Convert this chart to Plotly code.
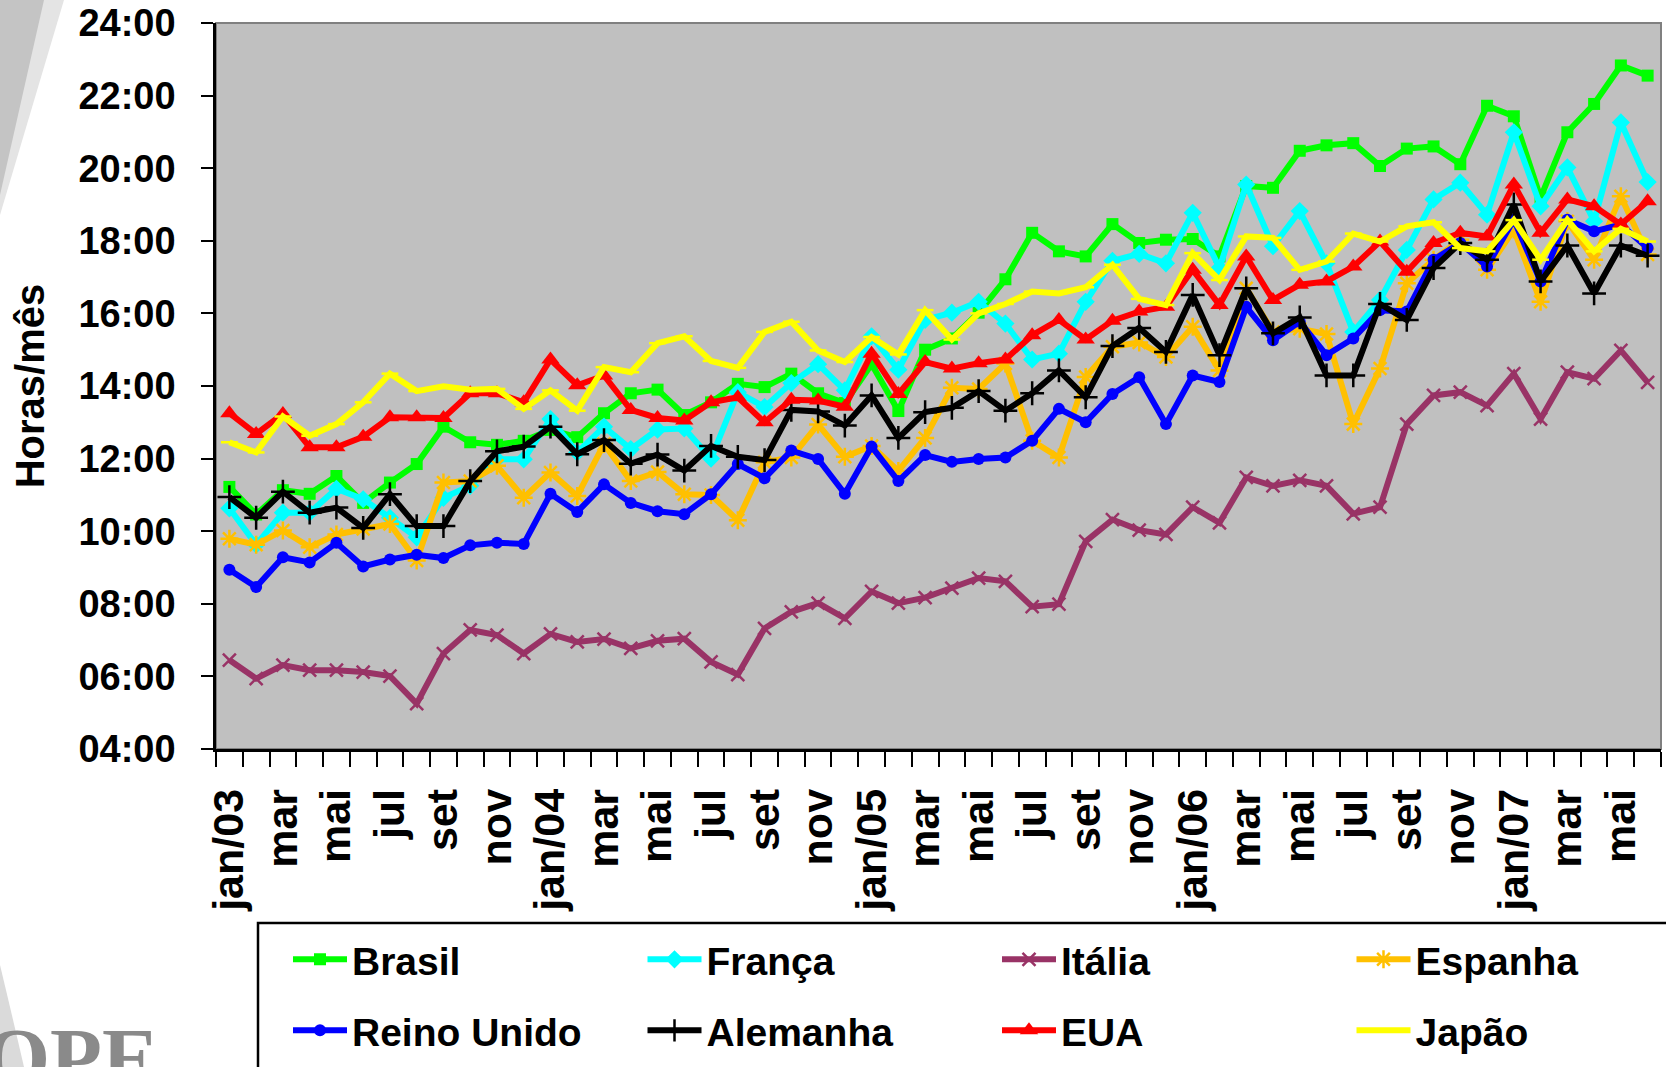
import plotly.graph_objects as go

# ---- data -------------------------------------------------------------
month_names = ["jan", "fev", "mar", "abr", "mai", "jun",
               "jul", "ago", "set", "out", "nov", "dez"]
years = ["03", "04", "05", "06", "07"]
months = [f"{m}/{y}" for y in years for m in month_names][:54]   # jan/03 .. jun/07

x_tick_labels = ["jan/03", "", "mar", "", "mai", "", "jul", "", "set", "", "nov", "",
                 "jan/04", "", "mar", "", "mai", "", "jul", "", "set", "", "nov", "",
                 "jan/05", "", "mar", "", "mai", "", "jul", "", "set", "", "nov", "",
                 "jan/06", "", "mar", "", "mai", "", "jul", "", "set", "", "nov", "",
                 "jan/07", "", "mar", "", "mai", ""]

y_ticks = [4, 6, 8, 10, 12, 14, 16, 18, 20, 22, 24]
y_tick_labels = ["04:00", "06:00", "08:00", "10:00", "12:00", "14:00",
                 "16:00", "18:00", "20:00", "22:00", "24:00"]

# hours per month (decimal hours)
brasil = [11.22, 10.46, 11.13, 11.03, 11.52, 10.78, 11.34, 11.85, 12.88, 12.45, 12.38, 12.49,
          12.79, 12.59, 13.25, 13.80, 13.90, 13.20, 13.55, 14.06, 13.97, 14.34, 13.80, 13.53,
          14.60, 13.31, 15.00, 15.31, 16.02, 16.94, 18.22, 17.71, 17.57, 18.46, 17.94, 18.03,
          18.05, 17.57, 19.51, 19.46, 20.48, 20.63, 20.69, 20.06, 20.54, 20.60, 20.11, 21.72,
          21.43, 19.19, 20.99, 21.77, 22.83, 22.55]
franca = [10.63, 9.63, 10.51, 10.51, 11.17, 10.88, 10.37, 9.83, 10.92, 11.25, 11.98, 11.98,
          13.09, 12.17, 12.88, 12.26, 12.80, 12.83, 12.00, 13.83, 13.42, 14.08, 14.60, 13.88,
          15.37, 14.45, 15.82, 16.02, 16.32, 15.72, 14.73, 14.89, 16.32, 17.45, 17.64, 17.38,
          18.77, 17.25, 19.55, 17.85, 18.82, 17.38, 15.49, 16.37, 17.75, 19.14, 19.60, 18.72,
          20.99, 18.95, 20.02, 18.54, 21.26, 19.62]
italia = [6.45, 5.94, 6.31, 6.17, 6.17, 6.12, 6.01, 5.25, 6.63, 7.28, 7.14, 6.63,
          7.17, 6.95, 7.03, 6.77, 6.98, 7.04, 6.40, 6.05, 7.32, 7.78, 8.02, 7.60,
          8.34, 8.02, 8.17, 8.43, 8.71, 8.62, 7.92, 7.99, 9.72, 10.32, 10.03, 9.91,
          10.66, 10.23, 11.48, 11.25, 11.40, 11.25, 10.48, 10.66, 12.95, 13.74, 13.83, 13.46,
          14.34, 13.09, 14.38, 14.20, 14.98, 14.10]
espanha = [9.79, 9.63, 10.02, 9.56, 9.91, 10.06, 10.20, 9.19, 11.34, 11.38, 11.80, 10.92,
           11.62, 10.97, 12.40, 11.38, 11.63, 11.02, 11.00, 10.30, 11.90, 12.03, 12.94, 12.05,
           12.35, 11.66, 12.57, 13.95, 13.92, 14.62, 12.49, 12.03, 14.25, 15.08, 15.20, 14.80,
           15.63, 14.43, 16.69, 15.49, 15.58, 15.43, 12.95, 14.48, 16.83, 17.48, 18.03, 17.20,
           18.31, 16.32, 18.54, 17.48, 19.23, 17.62]
reino_unido = [8.94, 8.46, 9.28, 9.14, 9.68, 9.03, 9.22, 9.35, 9.26, 9.61, 9.68, 9.65,
               11.03, 10.53, 11.29, 10.78, 10.55, 10.47, 11.02, 11.85, 11.46, 12.22, 11.99, 11.03,
               12.33, 11.38, 12.10, 11.91, 11.99, 12.03, 12.49, 13.37, 13.00, 13.78, 14.24, 12.95,
               14.29, 14.11, 16.18, 15.26, 15.77, 14.85, 15.31, 16.09, 16.05, 17.48, 17.94, 17.29,
               18.58, 16.88, 18.58, 18.26, 18.45, 17.80]
alemanha = [10.94, 10.37, 11.09, 10.51, 10.65, 10.09, 11.02, 10.14, 10.14, 11.38, 12.20, 12.33,
            12.88, 12.12, 12.51, 11.86, 12.11, 11.67, 12.35, 12.05, 11.96, 13.34, 13.30, 12.91,
            13.74, 12.57, 13.28, 13.40, 13.86, 13.32, 13.80, 14.43, 13.69, 15.10, 15.60, 14.94,
            16.51, 14.85, 16.69, 15.45, 15.89, 14.29, 14.29, 16.26, 15.82, 17.25, 17.94, 17.48,
            19.00, 16.88, 17.87, 16.55, 17.87, 17.59]
eua = [13.25, 12.68, 13.23, 12.31, 12.31, 12.60, 13.14, 13.14, 13.12, 13.80, 13.80, 13.55,
       14.73, 14.02, 14.29, 13.34, 13.12, 13.05, 13.55, 13.69, 13.00, 13.62, 13.60, 13.43,
       14.89, 13.78, 14.66, 14.48, 14.63, 14.73, 15.40, 15.82, 15.28, 15.80, 16.05, 16.18,
       17.20, 16.23, 17.57, 16.37, 16.79, 16.88, 17.29, 17.98, 17.15, 17.94, 18.22, 18.12,
       19.55, 18.22, 19.14, 18.95, 18.45, 19.09]
japao = [12.45, 12.17, 13.16, 12.63, 12.95, 13.55, 14.34, 13.86, 13.99, 13.90, 13.92, 13.37,
         13.88, 13.32, 14.52, 14.38, 15.18, 15.37, 14.69, 14.50, 15.49, 15.77, 14.98, 14.66,
         15.35, 14.87, 16.09, 15.28, 16.00, 16.26, 16.60, 16.55, 16.72, 17.34, 16.40, 16.23,
         17.66, 16.92, 18.12, 18.08, 17.20, 17.43, 18.20, 17.98, 18.40, 18.51, 17.80, 17.71,
         18.57, 17.48, 18.58, 17.71, 18.33, 17.98]

# name, values, colour, marker symbol, marker size, line-only symbol, legend row
series = [
    ("Brasil", brasil, "#00FF00", "square", 12, False, "legend"),
    ("França", franca, "#00FFFF", "diamond", 14, False, "legend"),
    ("Itália", italia, "#993366", "x-thin", 13, True, "legend"),
    ("Espanha", espanha, "#FFC000", "asterisk", 15, True, "legend"),
    ("Reino Unido", reino_unido, "#0000FF", "circle", 12, False, "legend2"),
    ("Alemanha", alemanha, "#000000", "cross-thin", 17, True, "legend2"),
    ("EUA", eua, "#FF0000", "triangle-up", 16, False, "legend2"),
    ("Japão", japao, "#FFFF00", "line-ew", 12, True, "legend2"),
]

FONT = "Liberation Sans, Arial, sans-serif"
W, H = 1666, 1067
ML, MR, MT, MB = 216, 5, 23, 318
PW, PH = W - ML - MR, H - MT - MB


def px(x):
    """page pixel -> paper x"""
    return (x - ML) / PW


def py(y):
    """page pixel -> paper y"""
    return (H - MB - y) / PH


fig = go.Figure()
for name, vals, color, symbol, size, thin, leg in series:
    marker = dict(symbol=symbol, size=size, color=color)
    if thin:
        marker["line"] = dict(color=color, width=2.5)
    fig.add_trace(go.Scatter(
        x=months, y=vals, name=name, mode="lines+markers",
        line=dict(color=color, width=6),
        marker=marker, legend=leg,
    ))

legend_common = dict(
    orientation="h",
    xref="container", yref="container",
    x=288 / W, xanchor="left", yanchor="middle",
    bgcolor="rgba(0,0,0,0)", borderwidth=0,
    font=dict(family=FONT, size=39, color="black", weight="bold"),
    entrywidth=285.5, entrywidthmode="pixels",
    itemwidth=54,
    traceorder="normal",
)

fig.update_layout(
    width=W, height=H,
    margin=dict(l=ML, r=MR, t=MT, b=MB, autoexpand=False),
    paper_bgcolor="white",
    plot_bgcolor="#C0C0C0",
    font=dict(family=FONT, color="black", size=38, weight="bold"),
    showlegend=True,
    legend=dict(legend_common, y=1 - 959.5 / H),
    legend2=dict(legend_common, y=1 - 1030.5 / H),
    shapes=[
        dict(type="rect", xref="paper", yref="paper", x0=0, x1=1, y0=0, y1=1,
             line=dict(color="#808080", width=2), layer="below"),
        # legend frame (runs off the page like the original)
        dict(type="rect", xref="paper", yref="paper",
             x0=px(258), x1=px(1700), y0=py(923), y1=py(1120),
             line=dict(color="black", width=2.5), fillcolor="rgba(0,0,0,0)"),
        # background swooshes of the slide template
        dict(type="path", xref="paper", yref="paper",
             path=f"M {px(0)} {py(0)} L {px(64)} {py(0)} L {px(0)} {py(215)} Z",
             fillcolor="#E4E4E4", line=dict(width=0), layer="below"),
        dict(type="path", xref="paper", yref="paper",
             path=f"M {px(0)} {py(0)} L {px(44)} {py(0)} L {px(0)} {py(195)} Z",
             fillcolor="#C4C4C4", line=dict(width=0), layer="below"),
        dict(type="path", xref="paper", yref="paper",
             path=(f"M {px(0)} {py(965)} Q {px(12)} {py(1015)} {px(24)} {py(1067)} "
                   f"L {px(0)} {py(1067)} Z"),
             fillcolor="#DADADA", line=dict(width=0), layer="below"),
    ],
    annotations=[
        dict(text="OPE", xref="paper", yref="paper", x=px(-18), y=py(1009),
             xanchor="left", yanchor="top", showarrow=False,
             font=dict(family="Liberation Serif, serif", size=85, color="#8A8A8A")),
    ],
)

fig.update_xaxes(
    type="category", range=[-0.5, 53.5], automargin=False,
    tickmode="array", tickvals=months, ticktext=x_tick_labels,
    tickson="boundaries",
    ticks="outside", ticklen=15, tickwidth=2, tickcolor="black",
    tickangle=-90,
    tickfont=dict(family=FONT, size=43, color="black", weight="bold"),
    ticklabelstandoff=20,
    showline=True, linecolor="black", linewidth=2.5,
    showgrid=False, zeroline=False,
)
fig.update_yaxes(
    range=[4, 24], automargin=False,
    tickmode="array", tickvals=y_ticks, ticktext=y_tick_labels,
    ticks="outside", ticklen=12, tickwidth=2, tickcolor="black",
    tickfont=dict(family=FONT, size=38, color="black", weight="bold"),
    ticklabelstandoff=18,
    showline=True, linecolor="black", linewidth=2.5,
    showgrid=False, zeroline=False,
    title=dict(text="Horas/mês", standoff=22,
               font=dict(family=FONT, size=40, color="black", weight="bold")),
)

fig.write_html("out.html", config={"displayModeBar": False},
               post_script="document.body.style.margin='0px';")
